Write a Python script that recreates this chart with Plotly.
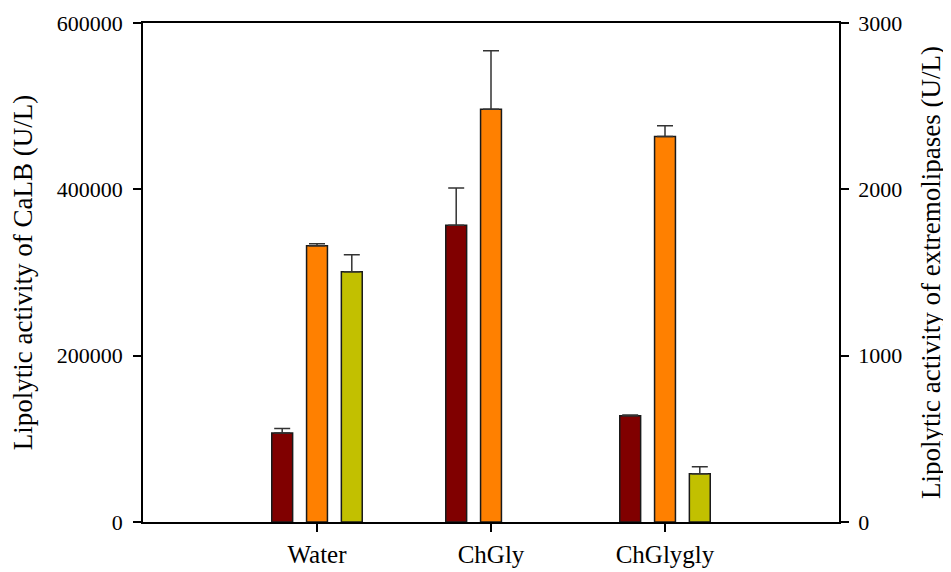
import plotly.graph_objects as go

categories = ["Water", "ChGly", "ChGlygly"]

# CaLB (left axis, U/L)
calb_values = [107000, 356700, 127800]
calb_errors = [5300, 45000, 1000]

# Extremolipases (right axis, U/L)
ext1_values = [1661, 2481, 2317]
ext1_errors = [12, 352, 66]
ext2_values = [1505, None, 290]
ext2_errors = [102, 0, 42]

FONT = "Times New Roman, Liberation Serif, DejaVu Serif, serif"
OUTLINE = dict(color="#1a1a1a", width=1.5)

def err(arr):
    return dict(type="data", symmetric=False, array=arr,
                arrayminus=[0] * len(arr), color="#333333",
                thickness=1.5, width=8)

fig = go.Figure()
fig.add_trace(go.Bar(x=categories, y=calb_values, error_y=err(calb_errors),
                     marker=dict(color="#800000", line=OUTLINE),
                     offset=-0.26, width=0.12, yaxis="y", name="CaLB"))
fig.add_trace(go.Bar(x=categories, y=ext1_values, error_y=err(ext1_errors),
                     marker=dict(color="#FF8000", line=OUTLINE),
                     offset=-0.06, width=0.12, yaxis="y2", name="Extremolipase 1"))
fig.add_trace(go.Bar(x=categories, y=ext2_values, error_y=err(ext2_errors),
                     marker=dict(color="#C2C000", line=OUTLINE),
                     offset=0.14, width=0.12, yaxis="y2", name="Extremolipase 2"))

# page body has an 8px default margin, so the figure is sized to fit the window
fig.update_layout(
    width=943, height=564,
    margin=dict(l=135, r=112, t=15, b=50),
    paper_bgcolor="white", plot_bgcolor="white",
    showlegend=False, barmode="overlay",
    font=dict(family=FONT, size=22, color="black"),
    xaxis=dict(type="category", range=[-1, 3], showgrid=False, automargin=False,
               showline=True, linecolor="black", linewidth=1.5, mirror=True,
               ticks="outside", ticklen=8, tickwidth=1.5, tickcolor="black",
               ticklabelstandoff=1,
               tickfont=dict(family=FONT, size=25), zeroline=False),
    yaxis=dict(range=[0, 600000], tickvals=[0, 200000, 400000, 600000],
               ticktext=["0", "200000", "400000", "600000"],
               showgrid=False, zeroline=False, automargin=False,
               showline=True, linecolor="black", linewidth=1.5,
               ticks="outside", ticklen=8, tickwidth=1.5, tickcolor="black",
               ticklabelstandoff=6,
               tickfont=dict(family=FONT, size=22),
               title=dict(text="Lipolytic activity of CaLB (U/L)",
                          font=dict(family=FONT, size=27), standoff=16)),
    yaxis2=dict(range=[0, 3000], tickvals=[0, 1000, 2000, 3000],
                overlaying="y", side="right", showgrid=False, zeroline=False,
                automargin=False,
                showline=True, linecolor="black", linewidth=1.5,
                ticks="outside", ticklen=8, tickwidth=1.5, tickcolor="black",
                ticklabelstandoff=5,
                tickfont=dict(family=FONT, size=22),
                title=dict(text="Lipolytic activity of extremolipases (U/L)",
                           font=dict(family=FONT, size=27), standoff=20)),
)

fig.write_html("out.html")
